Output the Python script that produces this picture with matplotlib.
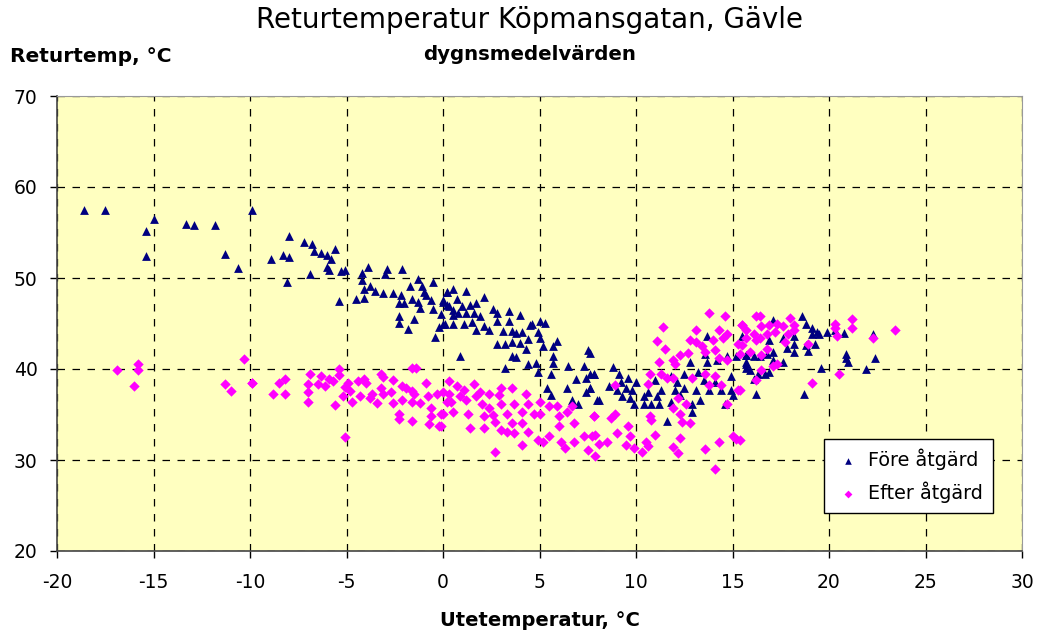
import matplotlib
matplotlib.use("Agg")
import matplotlib.pyplot as plt

plt.rcParams['font.family'] = ['DejaVu Sans']

# Före åtgärd (triangles): outdoor temp, return temp
fore_x = [-18.6, -17.5, -15.0, -15.4, -15.4, -13.3, -12.9, -11.8, -11.3, -10.6, -9.9,
          -8.0, -8.9, -8.3, -8.0, -8.1, -7.2, -6.8, -6.7, -6.3, -6.0, -5.6, -5.8, -6.0, -5.9,
          -6.9, -5.3, -5.1, -5.4, -3.9, -4.2, -4.2, -4.1, -4.5, -4.1, -3.8, -3.5, -2.9, -3.0,
          -3.1, -2.6, -2.1, -2.2, -2.3, -2.0, -2.3, -2.3, -1.8, -1.5, -1.7, -1.3, -1.1, -1.0,
          -0.5, -1.6, -1.3, -1.2, -0.9, -0.6, -0.5, -0.1, -0.4, -0.2, 0.0, 0.0, 0.2, 0.2,
          0.2, 0.5, 1.2, 0.0, 0.7, 0.3, 0.5, 1.0, 1.4, 1.7, 2.1, 0.5, 0.8, 1.2, 1.6, 1.9,
          0.1, 0.5, 1.1, 1.5, 1.7, 2.1, 2.6, 2.8, 2.4, 2.8, 3.1, 3.4, 3.4, 4.0, 3.6, 3.8,
          4.1, 2.8, 3.2, 3.6, 4.0, 4.4, 4.3, 4.6, 4.5, 4.9, 5.0, 5.3, 5.0, 5.2, 5.7, 5.9,
          3.6, 3.8, 4.4, 4.8, 3.2, 4.9, 0.9, 5.7, 5.7, 5.6, 5.4, 5.6, 6.4, 6.5, 6.9, 6.7,
          7.0, 7.3, 7.5, 7.4, 7.6, 7.8, 7.4, 7.6, 8.0,
          7.6, 7.8, 7.6, 8.1, 8.6, 8.8, 9.1, 9.0, 9.2, 9.3, 9.5, 9.6, 9.7, 9.9, 9.8, 10.0,
          10.4, 10.4, 10.6, 10.8, 11.0, 11.1, 11.2, 11.3, 11.6, 11.8, 11.8, 12.0, 12.1, 12.3,
          12.5, 12.5, 12.8, 12.9, 12.9, 13.1, 13.2, 13.3, 13.5, 13.7, 13.7, 13.6, 13.8, 14.1,
          14.2, 14.4, 14.6, 14.7, 14.9, 14.9, 15.0, 15.2, 15.5, 15.7, 15.7,
          18.6, 17.1, 18.8, 19.1, 19.4, 19.5, 19.9, 20.3, 20.8, 19.1, 18.2, 18.2, 17.6, 16.9,
          16.8, 17.1, 17.8, 18.2, 18.8, 19.3, 18.9, 17.6, 17.1, 16.4, 16.1, 15.7, 15.7, 15.9,
          16.3, 16.7, 16.9, 16.1, 15.7, 16.2, 18.7, 19.6, 20.9, 20.9, 21.0, 21.9, 22.3, 22.4]
fore_y = [57.5, 57.5, 56.5, 55.2, 52.4, 55.9, 55.8, 55.8, 52.6, 51.1, 57.5,
          54.6, 52.1, 52.5, 52.3, 49.6, 54.0, 53.7, 53.0, 52.7, 52.5, 53.2, 52.1, 51.2, 50.9,
          50.4, 50.8, 50.9, 47.5, 51.2, 50.5, 49.8, 48.8, 47.7, 47.8, 49.1, 48.6, 51.0, 50.4,
          48.4, 48.3, 51.0, 48.1, 47.2, 47.2, 45.8, 45.1, 44.4, 45.5, 49.1, 49.9, 49.1, 48.5,
          49.6, 47.7, 47.4, 46.7, 48.1, 47.6, 46.6, 46.0, 43.5, 44.6, 45.0, 47.6, 48.5, 47.0,
          48.5, 48.8, 48.6, 47.4, 47.7, 46.9, 46.5, 46.9, 47.0, 47.3, 47.9, 45.9, 46.1, 46.1,
          46.1, 45.8, 45.0, 44.9, 45.0, 45.2, 44.3, 44.7, 46.6, 46.1, 44.3, 45.3, 44.2, 46.4,
          45.3, 45.9, 44.2, 44.0, 44.1, 42.8, 42.8, 43.0, 42.9, 43.3, 42.2, 45.0, 44.8, 44.1,
          45.3, 45.1, 43.4, 42.5, 42.5, 43.1, 41.4, 41.3, 40.6, 40.7, 40.1, 39.7, 41.4, 41.4,
          40.7, 39.4, 37.9, 37.1, 37.9, 40.3, 38.9, 36.6, 36.2, 40.3, 42.1, 39.0, 39.5, 39.4,
          37.5, 37.9, 36.6,
          41.8, 39.4, 37.9, 36.6, 38.1, 40.2, 39.5, 37.7, 38.6, 37.0, 37.9, 39.0, 36.8, 36.1,
          37.7, 38.6, 37.0, 36.1, 37.5, 36.1, 38.8, 37.0, 36.1, 37.7, 34.3, 36.4, 39.2, 37.7,
          38.6, 37.1, 39.4, 37.9, 40.8, 36.1, 35.3, 37.7, 39.7, 36.6, 38.8, 40.8, 43.6, 41.7,
          37.7, 38.6, 41.0, 37.7, 36.1, 41.4, 39.2, 37.7, 37.1, 41.4, 43.6, 41.5, 40.6,
          45.8, 45.4, 45.0, 44.5, 44.1, 43.9, 44.1, 44.3, 44.0, 43.8, 43.6, 42.8, 43.4, 43.2,
          41.7, 41.9, 42.3, 41.9, 42.6, 42.8, 42.0, 40.8, 41.0, 41.4, 41.4, 40.8, 40.1, 39.9,
          39.4, 39.4, 39.7, 38.9, 41.5, 37.3, 37.3, 40.1, 41.7, 41.2, 40.8, 40.0, 43.8, 41.2]

# Efter åtgärd (diamonds)
efter_x = [-16.9, -15.8, -15.8, -16.0, -10.3, -11.3, -11.0, -9.9,
           -9.9, -8.8, -8.5, -8.2, -8.2, -6.9, -7.0, -7.0, -7.0, -6.5, -6.3, -6.1, -5.9, -5.7,
           -5.4, -5.4, -5.6, -5.2, -5.1, -5.1, -4.9, -4.8, -4.7, -4.4, -4.3, -4.1, -4.0, -3.8,
           -3.7, -3.4, -3.2, -3.1, -3.2, -3.1, -2.6, -2.7, -2.6, -2.1, -2.1, -2.3, -2.3, -1.6,
           -1.4, -1.9, -1.6, -1.5, -1.6, -1.2, -1.6, -0.9, -0.8, -0.6, -0.6, -0.7, -0.2, -0.3,
           0.0, 0.2, 0.3,
           0.3, 0.0, -0.1, -0.1, 0.4, 0.5, 0.7, 0.9, 1.1, 1.2, 1.3, 1.4, 1.6, 1.7, 1.9, 2.0,
           2.1, 2.1, 2.4, 2.4, 2.6, 2.7, 2.7, 2.9, 3.0, 3.0, 3.0, 3.3, 3.3, 3.6, 3.6, 3.7, 3.7,
           4.1, 4.1, 4.1, 4.3, 4.4, 4.4, 4.7, 4.9, 5.0, 5.0, 5.2, 5.5, 5.5, 5.9, 6.0, 6.0, 6.1,
           6.4, 6.3, 6.7, 6.8, 6.8, 7.3, 7.5, 7.8, 7.9, 7.9,
           13.8, 14.6, 15.5, 13.1, 11.4, 11.1, 11.5, 12.8, 13.1, 13.4, 14.0, 14.3, 14.5, 14.7,
           14.1, 15.3, 15.4, 12.7, 13.6, 14.3, 14.7, 12.3, 11.2, 11.9, 12.0, 10.7, 11.3, 11.6,
           11.9, 12.9, 13.6, 14.1, 13.8, 14.4, 10.6, 8.9, 12.2, 11.9, 12.6, 15.3, 14.7, 7.8,
           8.7, 8.9, 9.0, 9.6, 9.7, 7.7, 8.1, 8.5, 9.5, 9.9, 10.3, 10.5, 10.6, 10.7, 10.8,
           11.0, 12.3, 11.9, 12.2, 12.4, 12.8, 12.3, 13.6, 14.3, 14.1, 15.0, 15.2,
           16.2, 16.4, 18.0, 15.5, 15.7, 16.1, 16.5, 16.9, 17.3, 17.6, 16.8, 16.4, 16.2, 15.7,
           17.2, 18.2, 18.2, 17.9, 17.7, 15.5, 15.9, 16.5, 16.8, 18.9, 17.1, 16.5, 16.2, 17.3,
           19.1, 15.4, 20.3, 20.4, 20.3, 21.2, 21.2, 22.3, 23.4, 20.5, 15.4]
efter_y = [39.9, 40.6, 39.9, 38.1, 41.1, 38.4, 37.6, 38.5,
           38.5, 37.3, 38.5, 38.9, 37.3, 39.4, 38.4, 37.5, 36.4, 38.4, 39.2, 38.1, 38.9, 38.7,
           40.0, 39.3, 36.0, 37.0, 38.0, 32.5, 38.5, 37.6, 36.4, 38.7, 37.0, 38.9, 38.5, 36.8,
           37.3, 36.3, 39.4, 39.1, 37.9, 37.2, 38.8, 37.5, 36.3, 38.1, 36.6, 35.1, 34.5, 40.1,
           40.1, 37.9, 37.6, 37.3, 36.4, 36.3, 34.3, 38.5, 37.0, 35.7, 34.8, 34.0, 33.7, 37.3,
           35.1, 36.4, 37.3,
           38.7, 37.5, 35.1, 33.7, 36.4, 35.3, 38.1, 37.0, 37.7, 36.6, 35.1, 33.5, 38.3, 37.0,
           37.5, 36.2, 34.8, 33.5, 37.3, 35.7, 35.0, 30.9, 34.2, 37.1, 37.9, 36.2, 33.3, 35.1,
           33.1, 37.9, 34.1, 36.2, 33.0, 35.3, 34.1, 31.7, 37.3, 36.2, 33.1, 35.1, 32.2, 36.4,
           35.1, 32.0, 35.9, 32.6, 35.9, 34.8, 33.7, 32.0, 35.3, 31.3, 35.9, 34.1, 32.0, 32.6,
           31.1, 34.8, 32.8, 30.4,
           46.2, 45.8, 44.8, 44.3, 44.6, 43.1, 42.2, 43.2, 43.0, 42.5, 43.2, 44.3, 43.4, 43.9,
           42.1, 42.8, 41.7, 41.8, 41.9, 41.2, 41.0, 41.5, 40.8, 41.0, 40.5, 39.4, 39.4, 39.0,
           39.0, 39.0, 39.5, 39.2, 38.2, 38.2, 38.4, 38.2, 36.8, 35.7, 36.1, 37.7, 36.1, 34.8,
           34.6, 35.1, 33.0, 33.7, 32.6, 32.6, 31.8, 32.0, 31.7, 31.3, 30.9, 32.0, 31.5, 34.8,
           34.4, 32.8, 32.4, 31.4, 30.8, 34.2, 34.1, 35.1, 31.2, 32.0, 29.0, 32.6, 32.3,
           45.8, 45.8, 45.6, 44.8, 44.3, 43.9, 44.7, 44.8, 45.0, 44.7, 43.9, 43.4, 43.2, 43.4,
           44.1, 44.8, 44.3, 43.8, 43.0, 42.6, 41.9, 41.5, 42.2, 42.8, 40.3, 39.9, 38.8, 40.5,
           38.5, 37.7, 45.0, 43.6, 44.5, 45.5, 44.5, 43.4, 44.3, 39.4, 32.2]

x_ticks = [-20, -15, -10, -5, 0, 5, 10, 15, 20, 25, 30]
y_ticks = [20, 30, 40, 50, 60, 70]

W, H = 1046, 636
fig = plt.figure(figsize=(W / 100, H / 100), dpi=100)
ax = fig.add_axes([57 / W, 1 - 551 / H, (1022 - 57) / W, (551 - 96) / H])
ax.set_facecolor('#FFFFC0')

ax.scatter(fore_x, fore_y, marker='^', s=40, color='#000080', linewidths=0,
           label='Före åtgärd', zorder=3)
ax.scatter(efter_x, efter_y, marker='D', s=28, color='#FF00FF', linewidths=0,
           label='Efter åtgärd', zorder=3)

ax.set_xlim(-20, 30)
ax.set_ylim(20, 70)
ax.set_xticks(x_ticks)
ax.set_yticks(y_ticks)
ax.set_xticklabels([str(v) for v in x_ticks], fontsize=13.5)
ax.set_yticklabels([str(v) for v in y_ticks], fontsize=13.5)
ax.tick_params(axis='x', direction='out', length=5, width=1, color='black', pad=11)
ax.tick_params(axis='y', direction='out', length=5, width=1, color='black', pad=9)
ax.grid(True, color='black', linestyle=(0, (6, 6)), linewidth=0.9)
ax.set_axisbelow(True)
for side in ['left', 'bottom']:
    ax.spines[side].set_color('#444444')
    ax.spines[side].set_linewidth(1.2)
for side in ['top', 'right']:
    ax.spines[side].set_color('#999999')
    ax.spines[side].set_linewidth(0.8)

fig.text(530 / W, 1 - 20 / H, 'Returtemperatur Köpmansgatan, Gävle', ha='center', va='center',
         fontsize=20)
fig.text(530 / W, 1 - 55 / H, 'dygnsmedelvärden', ha='center', va='center', fontsize=14.2,
         fontweight='bold')
fig.text(10 / W, 1 - 57 / H, 'Returtemp, °C', ha='left', va='center', fontsize=14.5,
         fontweight='bold')
fig.text(540 / W, 1 - 620 / H, 'Utetemperatur, °C', ha='center', va='center', fontsize=14,
         fontweight='bold')

leg = ax.legend(loc='upper left', bbox_to_anchor=((824 - 57) / (1022 - 57), (551 - 439) / (551 - 96)),
                fontsize=13.8, frameon=True, fancybox=False, framealpha=1,
                edgecolor='black', handletextpad=0.3, borderpad=0.5, labelspacing=0.6,
                markerscale=0.75, handlelength=1.5, borderaxespad=0)
leg.get_frame().set_linewidth(1.0)

fig.savefig('out.png', dpi=100)
